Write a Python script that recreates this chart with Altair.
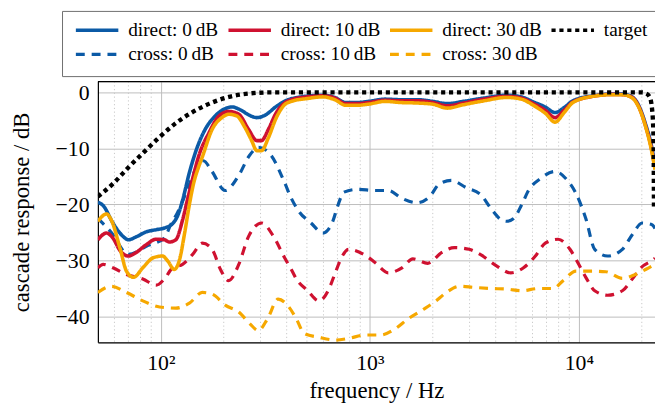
import altair as alt
import pandas as pd

FONT = "Liberation Serif"

SERIES = ["direct: 0\u2009dB", "direct: 10\u2009dB", "direct: 30\u2009dB", "target",
          "cross: 0\u2009dB", "cross: 10\u2009dB", "cross: 30\u2009dB"]
COLORS = ["#0b5aa6", "#cf1130", "#f6a800", "#000000", "#0b5aa6", "#cf1130", "#f6a800"]
DASHES = [[1, 0], [1, 0], [1, 0], [4.2, 3.8], [9, 7], [9, 7], [9, 7]]

# direct: 0 dB
F_D0 = [50, 53, 59, 66, 70, 76, 85, 95, 104, 114, 121, 127, 137, 150, 163, 182, 203, 219, 240, 266,
        288, 314, 357, 400, 450, 520, 596, 680, 766, 870, 984, 1184, 1400, 1700, 2000, 2350, 2800,
        3516, 4517, 5300, 6062, 6900, 7700, 8500, 9366, 11650, 14500, 16150, 18000, 19430, 20740,
        22380, 23130]
DB_D0 = [-19.6, -20.2, -23.3, -25.7, -26.3, -25.8, -24.9, -24.5, -24.2, -23.4, -21.8, -19.3, -14.3,
         -9.6, -6.6, -4.2, -2.9, -2.6, -3.1, -4.1, -4.5, -4.1, -2.5, -1.4, -0.9, -0.6, -0.5, -0.9,
         -1.8, -1.8, -1.6, -1.2, -1.3, -1.3, -1.6, -2.0, -1.6, -1.0, -0.5, -0.8, -1.7, -2.6, -3.6,
         -2.7, -1.5, -0.6, -0.3, -0.3, -0.8, -2.5, -5.4, -10.0, -13.0]

# direct: 10 dB
F_D10 = [50, 55, 59, 64, 70, 76, 85, 95, 104, 110, 118, 127, 134, 144, 152, 170, 190, 212, 236, 263,
         288, 303, 327, 357, 391, 421, 500, 596, 680, 766, 870, 984, 1184, 1400, 1700, 2000, 2350,
         2800, 3516, 4517, 5300, 6062, 6900, 7700, 8500, 9366, 11650, 14500, 16150, 18000, 19430,
         20740, 22380, 23130]
DB_D10 = [-26.3, -25.1, -26.0, -28.3, -29.2, -28.6, -27.2, -26.2, -26.3, -26.7, -26.3, -22.8, -19.2,
          -14.5, -11.3, -7.2, -4.2, -3.4, -3.9, -6.6, -8.6, -8.6, -6.6, -3.6, -1.9, -1.3, -0.8, -0.6,
          -1.0, -2.0, -2.0, -1.8, -1.4, -1.5, -1.5, -1.8, -2.4, -1.9, -1.2, -0.7, -1.0, -2.0, -3.2,
          -4.5, -3.2, -1.7, -0.7, -0.35, -0.4, -0.9, -2.7, -5.7, -10.5, -13.5]

# direct: 30 dB
F_D30 = [50, 55, 58, 64, 68.5, 74, 82, 92, 102, 108, 116, 123, 130, 137, 144, 151, 158, 176, 196,
         212, 231, 253, 272, 288, 303, 327, 357, 391, 421, 500, 596, 680, 766, 870, 984, 1184, 1400,
         1700, 2000, 2350, 2800, 3516, 4517, 5300, 6062, 6900, 7700, 8500, 9366, 11650, 14500,
         16150, 18000, 19430, 20740, 22380, 23130]
DB_D30 = [-23.0, -21.7, -22.8, -28.0, -31.9, -33.0, -31.3, -29.5, -29.2, -30.1, -31.6, -29.8, -25.1,
          -20.0, -16.0, -13.5, -11.5, -6.6, -4.5, -3.9, -4.2, -6.3, -8.6, -10.4, -10.4, -8.1, -4.5,
          -2.2, -1.6, -1.1, -0.8, -1.3, -2.3, -2.3, -2.1, -1.6, -1.8, -1.9, -2.1, -2.8, -2.2, -1.5,
          -0.9, -1.2, -2.3, -3.7, -5.3, -3.6, -1.8, -0.7, -0.4, -0.4, -1.0, -2.8, -5.8, -10.8, -13.8]

# target
F_T = [50, 59.8, 70.3, 82.8, 97.8, 116, 140.6, 171, 211.6, 262.7, 338, 500, 1000, 5000, 10000,
       15000, 20000, 21000, 21800, 22400, 22750, 22870]
DB_T = [-18.6, -16.1, -13.3, -10.7, -8.1, -5.7, -3.6, -2.0, -0.8, -0.2, 0, 0, 0, 0, 0, 0, 0, -0.2,
        -0.8, -3, -8, -21]

# cross: 0 dB
F_C0 = [50, 58, 70, 87, 104, 111.5, 120, 135, 150, 160, 175, 203, 236, 265, 294, 338, 390, 421, 459,
        523, 596, 665, 700, 752, 873, 1062, 1223, 1424, 1677, 1932, 2154, 2455, 2891, 3403, 3795,
        4279, 4517, 4875, 5318, 5741, 6540, 7700, 8679, 9679, 10792, 11904, 13715, 16144, 18002,
        20075, 22382, 23130]
DB_C0 = [-22.5, -25, -28.9, -27.3, -26, -23.6, -21.5, -17, -13, -12.2, -14, -17.5, -14.8, -11.3,
         -9.8, -11.3, -16, -18.9, -21.3, -23.3, -25.1, -23, -20.4, -17.8, -17.3, -17.5, -17.5, -18.9,
         -19.7, -18.6, -16.3, -15.7, -17, -18.3, -20.7, -22.8, -23, -22.5, -20.1, -17.5, -15.4, -14.1,
         -15.4, -18, -22.5, -28, -29.2, -28, -25.4, -23.3, -23.6, -24.3]

# cross: 10 dB
F_C10 = [50, 53, 59, 68.5, 82, 95, 104, 114, 127, 142, 158, 176, 193, 211, 236, 263, 304, 346, 391,
         421, 445, 505, 571, 637, 674, 725, 791, 935, 1062, 1223, 1424, 1606, 1891, 2202, 2537, 2987,
         3403, 4052, 4719, 5435, 6194, 6906, 7956, 9066, 9892, 10792, 11904, 13715, 16144, 18002,
         19800, 22800, 23130]
DB_C10 = [-31.3, -30.7, -31.3, -32.5, -33.3, -34.4, -33.3, -31.3, -30.7, -28.9, -26.9, -28, -31.6,
          -33.6, -30.7, -25.7, -23.3, -25.7, -29.5, -31.6, -33.3, -35.4, -37.2, -35.1, -32.8, -29.8,
          -28, -28.9, -30.4, -32.2, -31.3, -29.7, -30.5, -28.6, -27.7, -28, -29, -31, -32.2, -31.3,
          -29.2, -26.9, -26.2, -28, -30.4, -33, -35.4, -36.2, -35.4, -33.3, -31.3, -29.8, -29.6]

# cross: 30 dB
F_C30 = [50, 58, 68.5, 82, 98.6, 118, 137, 158, 176, 204, 236, 267, 293, 324, 364, 408, 445, 485,
         571, 687, 791, 952, 1121, 1320, 1526, 1771, 2041, 2325, 2679, 3154, 3795, 4517, 5318, 6399,
         7536, 8402, 9679, 11430, 13463, 16144, 18600, 21590, 23130]
DB_C30 = [-35.7, -34.6, -35.7, -37.2, -38.3, -38.5, -37.6, -35.7, -36, -38, -39.2, -41.3, -42.5,
          -40.4, -36.9, -38.2, -40.4, -43, -43.7, -44.2, -43.9, -43.3, -43.3, -42.2, -40.4, -38.9,
          -37.4, -35.7, -34.6, -34.8, -35, -35.1, -35.4, -35, -35, -33.6, -31.9, -31.9, -32, -33.2,
          -32.5, -31.3, -30.7]

X_MAJOR = [100, 1000, 10000]
X_TICK_LABELS = ["10\u00b2", "10\u00b3", "10\u2074"]
X_MINOR = [60, 70, 80, 90, 200, 300, 400, 500, 600, 700, 800, 900,
           2000, 3000, 4000, 5000, 6000, 7000, 8000, 9000, 20000]
Y_TICKS = [0, -10, -20, -30, -40]
X_DOMAIN = [50, 23130]
Y_DOMAIN = [-44.6, 1.94]

FREQS = [F_D0, F_D10, F_D30, F_T, F_C0, F_C10, F_C30]
DBS = [DB_D0, DB_D10, DB_D30, DB_T, DB_C0, DB_C10, DB_C30]

rows = []
for name, fs, ds in zip(SERIES, FREQS, DBS):
    for f, d in zip(fs, ds):
        rows.append({"series": name, "f": f, "db": d})
df = pd.DataFrame(rows)

label_expr = ""
for v, lab in zip(X_MAJOR[:-1], X_TICK_LABELS[:-1]):
    label_expr += f"datum.value == {v} ? '{lab}' : "
label_expr += f"'{X_TICK_LABELS[-1]}'"

x_axis = alt.Axis(values=X_MAJOR, labelExpr=label_expr, grid=True, gridColor="#bdbdbd",
                  gridWidth=1, domain=True, domainColor="black", domainWidth=1.2, ticks=False,
                  labelFont=FONT, labelFontSize=22, labelColor="black", labelPadding=11,
                  title="frequency / Hz", titleFont=FONT, titleFontSize=23,
                  titleFontWeight="normal", titleColor="black", titleY=56,
                  titleBaseline="alphabetic")
y_axis = alt.Axis(values=Y_TICKS, labelExpr="replace(datum.label, '-', '\u2212')", grid=True,
                  gridColor="#bdbdbd", gridWidth=1, domain=True, domainColor="black",
                  domainWidth=1.2, ticks=False, labelFont=FONT, labelFontSize=22,
                  labelColor="black", labelPadding=9, title="cascade response / dB",
                  titleFont=FONT, titleFontSize=23, titleFontWeight="normal", titleColor="black",
                  titleX=-77, titleY=132, titleAngle=270, titleAlign="center",
                  titleBaseline="middle")

x_scale = alt.Scale(type="log", domain=X_DOMAIN, nice=False)
y_scale = alt.Scale(domain=Y_DOMAIN, nice=False, zero=False)

legend = alt.Legend(title=None, orient="none", legendX=-36.3, legendY=-71.5, columns=4,
                    direction="horizontal",
                    symbolType="stroke", symbolSize=1849, symbolStrokeWidth=3.5,
                    labelFont=FONT, labelFontSize=19.5, labelColor="black", labelOffset=8,
                    columnPadding=7.5, rowPadding=4.5, padding=12, clipHeight=15,
                    strokeColor="#6e6e6e", gridAlign="each", labelLimit=300)

enc = dict(
    x=alt.X("f:Q", scale=x_scale, axis=x_axis),
    y=alt.Y("db:Q", scale=y_scale, axis=y_axis),
    color=alt.Color("series:N", scale=alt.Scale(domain=SERIES, range=COLORS), legend=legend),
    strokeDash=alt.StrokeDash("series:N", scale=alt.Scale(domain=SERIES, range=DASHES),
                              legend=legend),
)

base = alt.Chart(df)

minor = alt.Chart(pd.DataFrame({"f": X_MINOR})).mark_rule(
    color="#c8c8c8", strokeWidth=1, strokeDash=[1.2, 2.6]
).encode(x=alt.X("f:Q", scale=x_scale, axis=x_axis))

cross = base.transform_filter(
    alt.FieldOneOfPredicate(field="series", oneOf=SERIES[4:])
).mark_line(strokeWidth=3.2, interpolate="monotone", clip=True, strokeCap="butt").encode(**enc)

direct = base.transform_filter(
    alt.FieldOneOfPredicate(field="series", oneOf=SERIES[:3])
).mark_line(strokeWidth=3.6, interpolate="monotone", clip=True).encode(**enc)

target = base.transform_filter(
    alt.FieldOneOfPredicate(field="series", oneOf=[SERIES[3]])
).mark_line(strokeWidth=4.4, interpolate="monotone", clip=True, strokeCap="butt").encode(**enc)

top_border = alt.Chart(pd.DataFrame({"a": [0]})).mark_rule(
    color="black", strokeWidth=1.2
).encode(y=alt.value(0))

chart = alt.layer(minor, cross, direct, target, top_border).properties(
    width=564, height=264,
    padding={"left": 91, "top": 72, "right": 0, "bottom": 61},
    autosize=alt.AutoSizeParams(type="none"),
).configure_view(stroke=None).configure(background="white")

chart.save("out.html", embed_options={"renderer": "svg", "actions": False})
